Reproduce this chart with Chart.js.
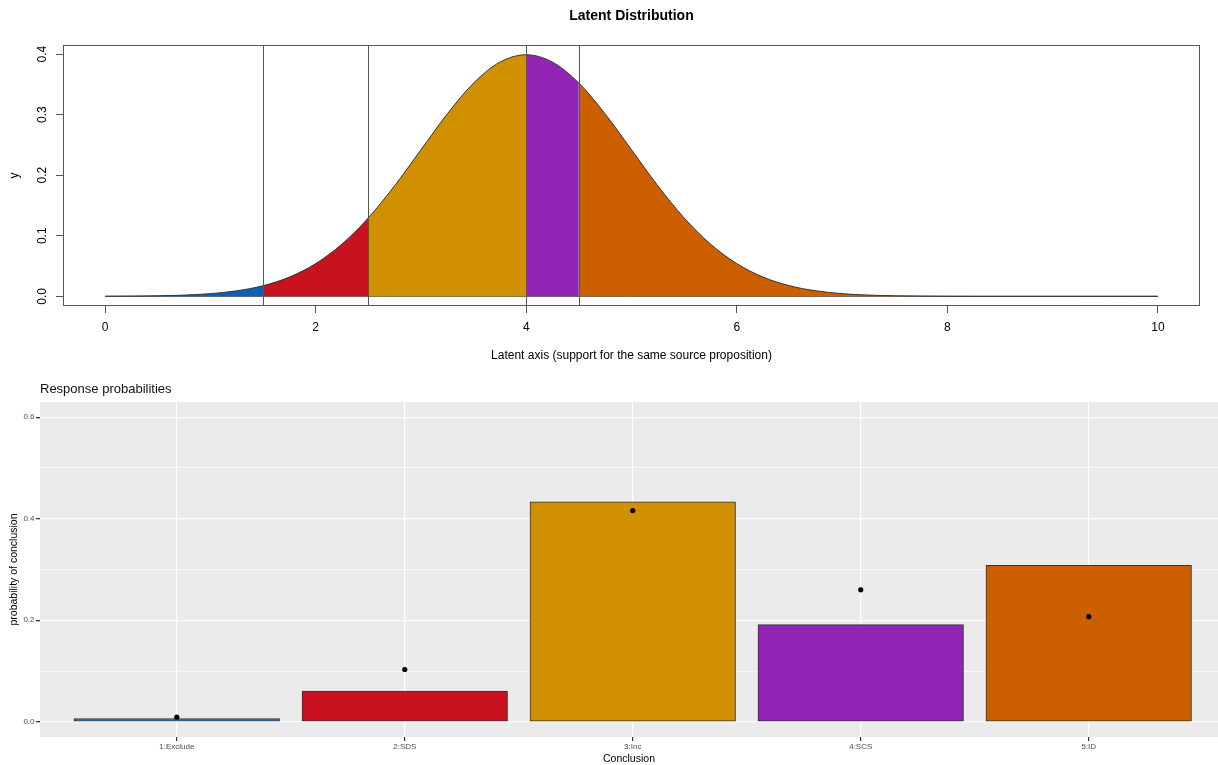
<!DOCTYPE html>
<html>
<head>
<meta charset="utf-8">
<script src="https://cdn.jsdelivr.net/npm/chart.js@4/dist/chart.umd.min.js"></script>
<style>
  body { margin: 0; background: #fff; overflow: hidden; }
  canvas { display: block; position: absolute; left: 0; }
  #latent { top: 0; }
  #probs { top: 370px; }
</style>
</head>
<body>
<canvas id="latent" width="1218" height="370"></canvas>
<canvas id="probs" width="1218" height="395"></canvas>
<script>
// latent curve, every 0.25
const curveX = [0, 0.25, 0.5, 0.75, 1, 1.25, 1.5, 1.75, 2, 2.25, 2.5, 2.75, 3, 3.25, 3.5, 3.75,
    4, 4.25, 4.5, 4.75, 5, 5.25, 5.5, 5.75, 6, 6.25, 6.5, 6.75, 7, 7.25, 7.5, 7.75,
    8, 8.25, 8.5, 8.75, 9, 9.25, 9.5, 9.75, 10];
const curveY = [0.0001, 0.0004, 0.0009, 0.002, 0.0044, 0.0091, 0.0175, 0.0317, 0.054, 0.0863, 0.1295, 0.1826, 0.242, 0.3011, 0.3521, 0.3867,
    0.3989, 0.3867, 0.3521, 0.3011, 0.242, 0.1826, 0.1295, 0.0863, 0.054, 0.0317, 0.0175, 0.0091, 0.0044, 0.002, 0.0009, 0.0004,
    0.0001, 0, 0, 0, 0, 0, 0, 0, 0];
const cutPoints = [1.5, 2.5, 4, 4.5];
const latentXTicks = [0, 2, 4, 6, 8, 10];
const latentYTicks = [0, 0.1, 0.2, 0.3, 0.4];

// response probabilities
const categories = ["1:Exclude", "2:SDS", "3:Inc", "4:SCS", "5:ID"];
const barValues = [0.006, 0.06, 0.433, 0.191, 0.308];
const pointValues = [0.009, 0.103, 0.416, 0.26, 0.207];
const probYTicks = [0, 0.1, 0.2, 0.3, 0.4, 0.5, 0.6];

const regionColors = ["#0c60b8", "#c8121f", "#d09000", "#9124b5", "#cc5f00"];

Chart.defaults.font.family = "'Liberation Sans', Arial, sans-serif";
Chart.defaults.color = "#000";
Chart.defaults.animation = false;

function regionOf(x) {
    let i = 0;
    while(i < cutPoints.length && x >= cutPoints[i]) i++;
    return i;
}

function isMajor(v) {
    return Math.round(v * 10) % 2 == 0;
}

// base R style: box round the plot, vertical lines at the cut points
const boxPlugin = {
    id: "box",
    afterDatasetsDraw(chart) {
        const {ctx, chartArea: a, scales} = chart;
        ctx.save();
        ctx.strokeStyle = "#555";
        ctx.lineWidth = 1;
        for(const c of cutPoints) {
            const px = Math.round(scales.x.getPixelForValue(c)) + 0.5;
            ctx.beginPath();
            ctx.moveTo(px, a.top);
            ctx.lineTo(px, a.bottom);
            ctx.stroke();
        }
        ctx.strokeRect(Math.round(a.left) + 0.5, Math.round(a.top) + 0.5,
            Math.round(a.right - a.left) - 1, Math.round(a.bottom - a.top) - 1);
        ctx.restore();
    }
};

// ggplot style grey panel
const panelPlugin = {
    id: "panel",
    beforeDraw(chart) {
        const {ctx, chartArea: a} = chart;
        ctx.save();
        ctx.fillStyle = "#ebebeb";
        ctx.fillRect(a.left, a.top, a.right - a.left, a.bottom - a.top);
        ctx.restore();
    }
};

new Chart(document.getElementById("latent"), {
    type: "line",
    data: {
        datasets: [
            {
                data: curveX.map((x, i) => ({x: x, y: curveY[i]})),
                borderColor: "#333",
                borderWidth: 1,
                pointRadius: 0,
                cubicInterpolationMode: "monotone",
                fill: "origin",
                backgroundColor: regionColors[0],
                segment: {
                    backgroundColor: c => regionColors[regionOf(c.p0.parsed.x)]
                }
            }, {
                data: [{x: curveX[0], y: 0}, {x: curveX[curveX.length - 1], y: 0}],
                borderColor: "#444",
                borderWidth: 1,
                pointRadius: 0,
                fill: false
            }
        ]
    },
    options: {
        responsive: false,
        devicePixelRatio: 1,
        layout: {autoPadding: false, padding: {left: 0, right: 18, top: 0, bottom: 0}},
        plugins: {
            legend: {display: false},
            tooltip: {enabled: false},
            title: {
                display: true,
                text: "Latent Distribution",
                fullSize: false,
                font: {size: 14, weight: "bold"},
                color: "#000",
                padding: {top: 7.6, bottom: 20.6}
            }
        },
        scales: {
            x: {
                type: "linear",
                min: -0.4,
                max: 10.4,
                afterBuildTicks: a => { a.ticks = latentXTicks.map(v => ({value: v})); },
                afterFit: s => { s.height = 64; s.paddingLeft = 0; s.paddingRight = 0; },
                border: {display: false},
                grid: {drawOnChartArea: false, tickLength: 7, tickColor: "#555"},
                ticks: {font: {size: 12}, color: "#000", padding: 7.8, maxRotation: 0, autoSkip: false},
                title: {
                    display: true,
                    text: "Latent axis (support for the same source proposition)",
                    font: {size: 12},
                    color: "#000",
                    padding: {top: 0, bottom: 6.8}
                }
            },
            y: {
                type: "linear",
                min: -0.016,
                max: 0.415,
                afterBuildTicks: a => { a.ticks = latentYTicks.map(v => ({value: v})); },
                afterFit: s => { s.width = 63; },
                border: {display: false},
                grid: {drawOnChartArea: false, tickLength: 7, tickColor: "#555"},
                ticks: {
                    font: {size: 12},
                    color: "#000",
                    minRotation: 90,
                    maxRotation: 90,
                    crossAlign: "center",
                    padding: 4.5,
                    autoSkip: false,
                    callback: v => v.toFixed(1)
                },
                title: {
                    display: true,
                    text: "y",
                    font: {size: 12},
                    color: "#000",
                    padding: {top: 7.8, bottom: 0}
                }
            }
        }
    },
    plugins: [boxPlugin]
});

new Chart(document.getElementById("probs"), {
    type: "bar",
    data: {
        datasets: [
            {
                type: "scatter",
                data: pointValues.map((v, i) => ({x: i + 1, y: v})),
                backgroundColor: "#000",
                borderWidth: 0,
                pointRadius: 2.6,
                order: 0
            }, {
                data: barValues.map((v, i) => ({x: i + 1, y: v})),
                backgroundColor: regionColors,
                borderColor: "#333",
                borderWidth: 1,
                borderSkipped: false,
                inflateAmount: 0.5,
                categoryPercentage: 0.9,
                barPercentage: 1,
                order: 1
            }
        ]
    },
    options: {
        responsive: false,
        devicePixelRatio: 1,
        layout: {autoPadding: false, padding: 0},
        plugins: {
            legend: {display: false},
            tooltip: {enabled: false},
            title: {
                display: true,
                text: "Response probabilities",
                fullSize: false,
                align: "start",
                font: {size: 13, weight: "normal"},
                color: "#111",
                padding: {top: 11.2, bottom: 5.2}
            }
        },
        scales: {
            x: {
                type: "linear",
                min: 0.4,
                max: 5.567,
                offset: false,
                afterBuildTicks: a => { a.ticks = categories.map((c, i) => ({value: i + 1})); },
                afterFit: s => { s.height = 28; s.paddingLeft = 0; s.paddingRight = 0; },
                border: {display: false},
                grid: {offset: false, color: "#fff", lineWidth: 1.2, tickLength: 4, tickColor: "#333"},
                ticks: {
                    font: {size: 8},
                    color: "#4d4d4d",
                    padding: 1.2,
                    maxRotation: 0,
                    autoSkip: false,
                    callback: v => categories[v - 1]
                },
                title: {
                    display: true,
                    text: "Conclusion",
                    font: {size: 10.5},
                    color: "#000",
                    padding: {top: 0, bottom: 0}
                }
            },
            y: {
                type: "linear",
                min: -0.03,
                max: 0.63,
                afterBuildTicks: a => { a.ticks = probYTicks.map(v => ({value: v})); },
                afterFit: s => { s.width = 40; },
                border: {display: false},
                grid: {
                    color: "#fff",
                    lineWidth: c => isMajor(c.tick.value) ? 1.3 : 0.6,
                    tickLength: 4,
                    tickColor: c => isMajor(c.tick.value) ? "#333" : "rgba(0,0,0,0)"
                },
                ticks: {
                    font: {size: 8},
                    color: "#4d4d4d",
                    padding: 1.5,
                    autoSkip: false,
                    callback: v => isMajor(v) ? v.toFixed(1) : ""
                },
                title: {
                    display: true,
                    text: "probability of conclusion",
                    font: {size: 10.5},
                    color: "#000",
                    padding: {top: 8.3, bottom: 0}
                }
            }
        }
    },
    plugins: [panelPlugin]
});
</script>
</body>
</html>
